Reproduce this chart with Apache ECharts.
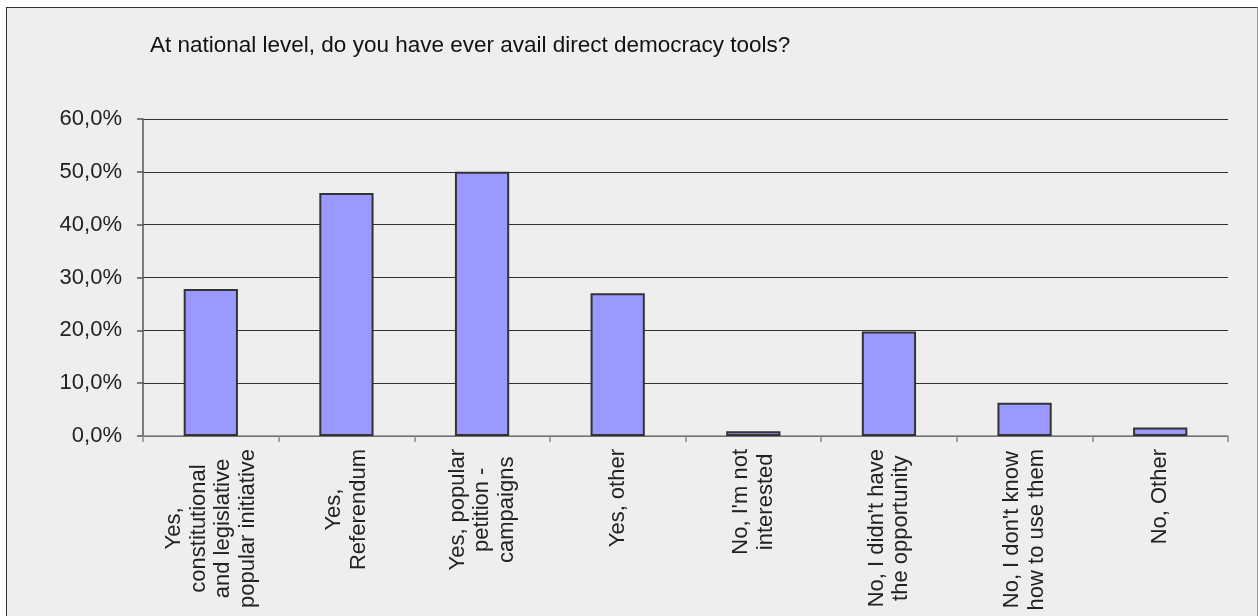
<!DOCTYPE html>
<html>
<head>
<meta charset="utf-8">
<script src="https://cdn.jsdelivr.net/npm/echarts@6/dist/echarts.min.js"></script>
<style>
html,body{margin:0;padding:0;background:#fff;width:1258px;height:616px;overflow:hidden;}
#frame{position:absolute;left:6px;top:7px;width:1250px;height:640px;background:#eeeeee;border-top:1.5px solid #333;border-left:1.5px solid #333;border-right:1.5px solid #999;}
#chart{position:absolute;left:0;top:0;width:1258px;height:616px;}
</style>
</head>
<body>
<div id="frame"></div>
<div id="chart"></div>
<script>
const titleText = "At national level, do you have ever avail direct democracy tools?";
const categories = [
  "Yes,\nconstitutional\nand legislative\npopular initiative",
  "Yes,\nReferendum",
  "Yes, popular\npetition -\ncampaigns",
  "Yes, other",
  "No, I'm not\ninterested",
  "No, I didn't have\nthe opportunity",
  "No, I don't know\nhow to use them",
  "No, Other"
];
const values = [27.8, 46.0, 50.0, 27.0, 0.9, 19.8, 6.3, 1.6];
const yTicks = { min: 0, max: 60, interval: 10 };

const chart = echarts.init(document.getElementById('chart'), null, { renderer: 'canvas' });
const fontFam = 'Liberation Sans, Arial, sans-serif';
chart.setOption({
  backgroundColor: 'transparent',
  animation: false,
  title: {
    text: titleText,
    left: 145, top: 29,
    textStyle: { fontFamily: fontFam, fontSize: 22.5, fontWeight: 'normal', color: '#111' }
  },
  grid: { left: 143, right: 30, top: 119, bottom: 180, containLabel: false },
  xAxis: {
    type: 'category',
    data: categories,
    axisLine: { show: true, lineStyle: { color: '#888', width: 1.5 } },
    axisTick: { show: true, length: 6, alignWithLabel: false, lineStyle: { color: '#888', width: 1.5 } },
    axisLabel: {
      rotate: 90, margin: 13, interval: 0,
      fontFamily: fontFam, fontSize: 22, color: '#222', lineHeight: 24.5,
      formatter: function (v) { return v.split('\n').map(function (s) { return '{c|' + s + '}'; }).join('\n'); },
      rich: { c: { align: 'center', fontFamily: fontFam, fontSize: 22, color: '#222', lineHeight: 24.5 } }
    }
  },
  yAxis: {
    type: 'value',
    min: yTicks.min, max: yTicks.max, interval: yTicks.interval,
    axisLine: { show: true, lineStyle: { color: '#555', width: 1.5 } },
    axisTick: { show: true, length: 6, lineStyle: { color: '#555', width: 1.5 } },
    axisLabel: {
      margin: 21, fontFamily: fontFam, fontSize: 22, color: '#222',
      formatter: function (v) { return v.toFixed(1).replace('.', ',') + '%'; }
    },
    splitLine: { show: true, lineStyle: { color: '#333', width: 1.2 } }
  },
  series: [{
    type: 'bar',
    data: values,
    barCategoryGap: '60%',
    itemStyle: { color: '#9999ff', borderColor: '#333', borderWidth: 2 }
  }]
});
</script>
</body>
</html>
